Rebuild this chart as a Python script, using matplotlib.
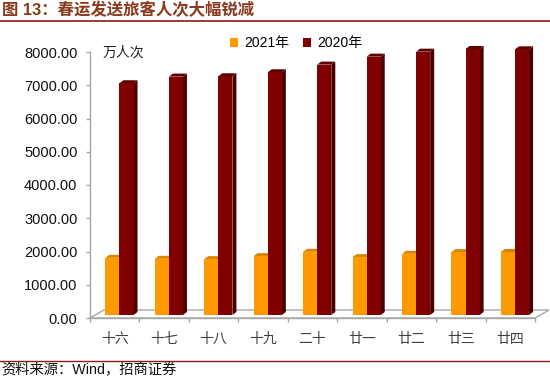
import matplotlib
matplotlib.use("Agg")
import matplotlib.pyplot as plt
from matplotlib.patches import Polygon, Patch
import numpy as np

# ---------------- data ----------------
categories = ["十六", "十七", "十八", "十九", "二十", "廿一", "廿二", "廿三", "廿四"]
series_names = ["2021年", "2020年"]
values_2021 = [1720, 1690, 1680, 1770, 1900, 1740, 1840, 1890, 1895]
values_2020 = [6970, 7170, 7180, 7300, 7530, 7770, 7920, 8000, 7990]
y_ticks = [0, 1000, 2000, 3000, 4000, 5000, 6000, 7000, 8000]

# ---------------- style ----------------
W, H = 550, 378
CJK = ["Noto Sans CJK SC", "DejaVu Sans"]
LAT = ["Liberation Sans", "Noto Sans CJK SC", "DejaVu Sans"]
front_cols = ["#FF9900", "#800000"]
side_cols = ["#B86E00", "#4A0000"]
top_cols = ["#D98400", "#5E0000"]
axis_col = "#A6A6A6"

fig = plt.figure(figsize=(W / 100, H / 100), dpi=100)
ax = fig.add_axes([90 / W, 60 / H, 445 / W, 266 / H])
ax.set_xlim(0, len(categories))
ax.set_ylim(y_ticks[0], y_ticks[-1])

# pixel -> data conversions
px_x = len(categories) / 445.0
px_y = (y_ticks[-1] - y_ticks[0]) / 266.0

# floor (3D base)
fdx, fdy = 14 * px_x, 8 * px_y
n = len(categories)
floor = Polygon([(0, 0), (n, 0), (n + fdx, fdy), (fdx, fdy)], closed=True,
                fill=False, edgecolor=axis_col, lw=1.0, clip_on=False, zorder=1)
ax.add_patch(floor)

# bars with pseudo 3D faces
bar_w = 0.285
group_off = 0.31
lift = 3 * px_y
sdx, sdy = 4 * px_x, 3 * px_y
x = np.arange(n)
for s, vals in enumerate([values_2021, values_2020]):
    x0s = x + group_off + s * bar_w
    ax.bar(x0s, vals, width=bar_w, bottom=lift, align="edge",
           color=front_cols[s], edgecolor="none", zorder=3 + s * 2, clip_on=False)
    for x0, v in zip(x0s, vals):
        x1 = x0 + bar_w
        top = lift + v
        side = Polygon([(x1, lift), (x1, top), (x1 + sdx, top + sdy), (x1 + sdx, lift + sdy)],
                       closed=True, facecolor=side_cols[s], edgecolor="none",
                       zorder=2 + s * 2, clip_on=False)
        topf = Polygon([(x0, top), (x1, top), (x1 + sdx, top + sdy), (x0 + sdx, top + sdy)],
                       closed=True, facecolor=top_cols[s], edgecolor="none",
                       zorder=2 + s * 2, clip_on=False)
        ax.add_patch(side)
        ax.add_patch(topf)

# axes styling
for sp in ["top", "right"]:
    ax.spines[sp].set_visible(False)
for sp in ["left", "bottom"]:
    ax.spines[sp].set_color(axis_col)
    ax.spines[sp].set_linewidth(1.0)
    ax.spines[sp].set_zorder(1)

ax.set_yticks(y_ticks)
ax.set_yticklabels([f"{v:.2f}" for v in y_ticks], fontsize=10.5, family=LAT, color="#111111")
ax.tick_params(axis="y", direction="out", length=3, width=1, color=axis_col, pad=6)

ax.set_xticks(np.arange(n + 1))
ax.set_xticklabels([])
ax.tick_params(axis="x", which="major", direction="out", length=3, width=1, color=axis_col)
ax.set_xticks(x + 0.5, minor=True)
ax.set_xticklabels(categories, minor=True, fontsize=10, family=CJK, color="#404040")
ax.tick_params(axis="x", which="minor", length=0, pad=10)

# unit label
fig.text(103 / W, 1 - 53 / H, "万人次", fontsize=10, family=CJK, color="#222222",
         ha="left", va="center")

# legend
handles = [Patch(facecolor=front_cols[i], edgecolor="none") for i in range(2)]
leg = fig.legend(handles, series_names, loc="center", bbox_to_anchor=(296 / W, 1 - 43 / H),
                 ncol=2, frameon=False, handlelength=0.6, handleheight=0.6,
                 handletextpad=0.4, columnspacing=1.0, prop={"family": LAT, "size": 10})

# title and rules
fig.text(2 / W, 1 - 10 / H, "图 13：春运发送旅客人次大幅锐减", fontsize=11.8, fontweight="bold",
         family=LAT, color="#8B3A1E", ha="left", va="center")
fig.add_artist(plt.Line2D([0, 1], [1 - 20.5 / H, 1 - 20.5 / H], color="#8B1A1A", lw=1.2))
fig.add_artist(plt.Line2D([0, 1], [1 - 361 / H, 1 - 361 / H], color="#8B1A1A", lw=1.0))
fig.text(1 / W, 1 - 370 / H, "资料来源：Wind，招商证券", fontsize=10.3,
         family=LAT, color="#111111", ha="left", va="center")

fig.savefig("out.png", dpi=100)
